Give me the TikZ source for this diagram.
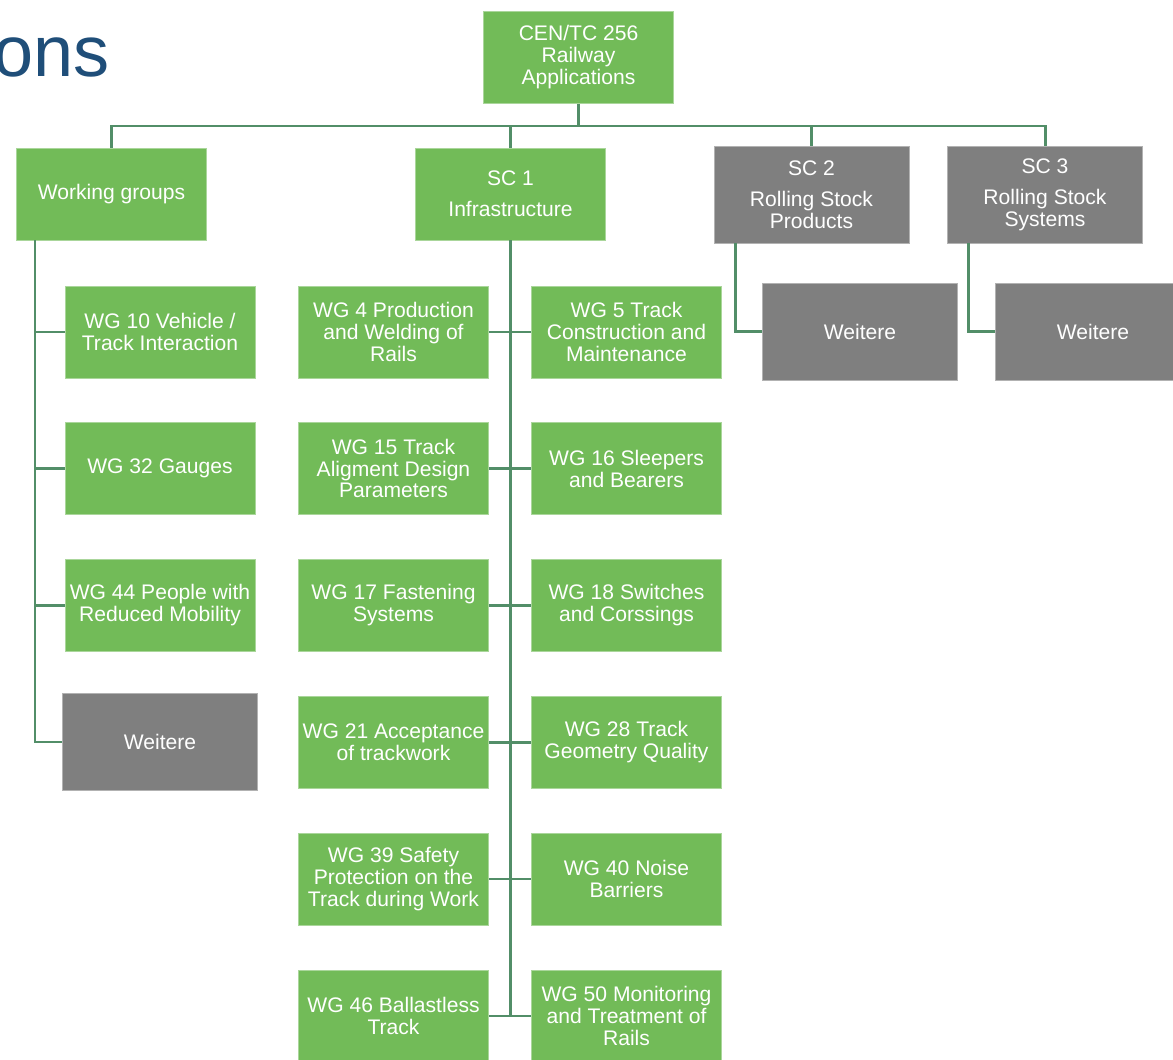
\documentclass[tikz,border=0pt]{standalone}
\usepackage{fontspec}
\setmainfont{Liberation Sans}
\usepackage{xcolor}
\definecolor{boxgreen}{RGB}{114,187,88}
\definecolor{boxgrey}{RGB}{127,127,127}
\definecolor{linkgreen}{RGB}{82,142,104}
\definecolor{titleblue}{RGB}{31,78,121}

\begin{document}
\begin{tikzpicture}
    [
    x=0.02cm, y=-0.02cm
    , wg/.style = {fill=boxgreen,draw=boxgreen!60!white,line width=0.4pt,text=white,align=center,inner sep=0pt,minimum width=3.8cm,minimum height=1.84cm,font=\fontsize{12}{12.5}\selectfont}
    , sc/.style = {wg,fill=boxgrey,draw=boxgrey!60!white,minimum width=3.9cm,minimum height=1.94cm}
    , link/.style = {linkgreen,line width=1.7pt}
    ]
\useasboundingbox (0,0) rectangle (1173,1060);
\clip (0,0) rectangle (1173,1060);

\node[anchor=base east,inner sep=0pt,text=titleblue,font=\fontsize{41}{48}\selectfont] (title) at (110,77) {ons};

% top level
\node[wg] (cen) at (578.5,57.5) {CEN/TC 256\\Railway\\Applications};
\node[wg] (wgroups) at (111.5,194) {Working groups};
\node[wg] (sc1) at (510.5,194) {SC 1\\[5pt]Infrastructure};
\node[sc] (sc2) at (811.5,194.5) {SC 2\\[5pt]Rolling Stock\\Products};
\node[sc] (sc3) at (1045,194.5) {SC 3\\[5pt]Rolling Stock\\Systems};

% working groups
\node[wg] (wg10) at (160,332) {WG 10 Vehicle /\\Track Interaction};
\node[wg] (wg32) at (160,468.5) {WG 32 Gauges};
\node[wg] (wg44) at (160,605.5) {WG 44 People with\\Reduced Mobility};
\node[sc] (wmore) at (160,742) {Weitere};

% SC 1
\node[wg] (wg4)  at (393.5,332)   {WG 4 Production\\and Welding of\\Rails};
\node[wg] (wg5)  at (626.5,332)   {WG 5 Track\\Construction and\\Maintenance};
\node[wg] (wg15) at (393.5,468.5) {WG 15 Track\\Aligment Design\\Parameters};
\node[wg] (wg16) at (626.5,468.5) {WG 16 Sleepers\\and Bearers};
\node[wg] (wg17) at (393.5,605.5) {WG 17 Fastening\\Systems};
\node[wg] (wg18) at (626.5,605.5) {WG 18 Switches\\and Corssings};
\node[wg] (wg21) at (393.5,742.5) {WG 21 Acceptance\\of trackwork};
\node[wg] (wg28) at (626.5,742.5) {WG 28 Track\\Geometry Quality};
\node[wg] (wg39) at (393.5,879)   {WG 39 Safety\\Protection on the\\Track during Work};
\node[wg] (wg40) at (626.5,879)   {WG 40 Noise\\Barriers};
\node[wg] (wg46) at (393.5,1016)  {WG 46 Ballastless\\Track};
\node[wg] (wg50) at (626.5,1016)  {WG 50 Monitoring\\and Treatment of\\Rails};

% SC 2, SC 3
\node[sc] (sc2more) at (860,331.5)  {Weitere};
\node[sc] (sc3more) at (1093,331.5) {Weitere};

% connectors
\coordinate (bus) at (578.5,126);
\coordinate (lspine) at (35,0);
\coordinate (sctwo) at (735,0);
\coordinate (scthree) at (968,0);

\draw[link] (cen.south) -- (bus);
\draw[link] (wgroups.north) |- (bus) -| (sc3.north);
\draw[link] (sc1.north) -- (sc1.north |- bus);
\draw[link] (sc2.north) -- (sc2.north |- bus);

\draw[link] (wgroups.south -| lspine) |- (wmore.west);
\foreach \n in {wg10,wg32,wg44}
    \draw[link] (\n.west -| lspine) -- (\n.west);

\draw[link] (sc1.south) -- (sc1.south |- wg46.east);
\foreach \a/\b in {wg4/wg5,wg15/wg16,wg17/wg18,wg21/wg28,wg39/wg40,wg46/wg50}
    \draw[link] (\a.east) -- (\b.west);

\draw[link] (sc2.south -| sctwo) |- (sc2more.west);
\draw[link] (sc3.south -| scthree) |- (sc3more.west);
\end{tikzpicture}
\end{document}
